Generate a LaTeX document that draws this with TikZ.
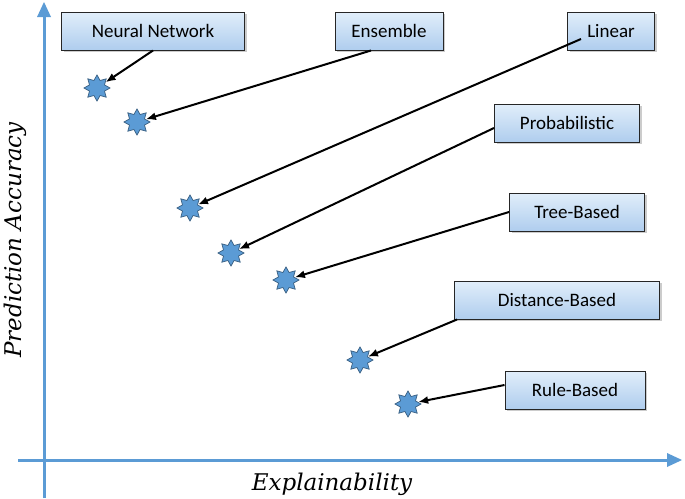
\documentclass[tikz,border=0pt]{standalone}
\usepackage{fontspec}
\setmainfont{Carlito}
\newfontfamily\axfont{DejaVu Serif}
\usetikzlibrary{shapes.geometric,arrows.meta,shadows}
\definecolor{axisblue}{RGB}{91,155,213}
\definecolor{boxtop}{RGB}{225,238,250}
\definecolor{boxbot}{RGB}{175,205,238}
\definecolor{starblue}{RGB}{91,155,213}
\tikzset{
  lbl/.style={draw=black!85, line width=1pt, top color=boxtop, bottom color=boxbot, inner sep=0pt, minimum height=38pt, font=\fontsize{19}{22}\selectfont, drop shadow={shadow xshift=2pt, shadow yshift=-2pt, opacity=0.4}},
  strp/.style={star, star points=8, star point ratio=1.6, minimum size=26pt, inner sep=0pt, fill=starblue, draw=starblue!60!black, line width=0.7pt},
  conn/.style={-{Latex[length=10pt,width=8pt]}, line width=2pt},
  ax/.style={draw=axisblue, line width=3pt}
}
\begin{document}
\begin{tikzpicture}[x=1pt,y=-1pt]
\useasboundingbox (0,0) rectangle (685,498);
\draw[ax] (44,498) -- (44,14);
\fill[axisblue] (44,2) -- (37,17) -- (51,17) -- cycle;
\draw[ax] (18,460) -- (668,460);
\fill[axisblue] (682,460) -- (667,453) -- (667,467) -- cycle;
\node[font=\axfont\itshape\fontsize{23}{26}\selectfont, rotate=90] (ylab) at (15,240) {Prediction Accuracy};
\node[font=\axfont\itshape\fontsize{23}{26}\selectfont] (xlab) at (332,484) {Explainability};

\node[lbl, minimum width=183pt] (nn) at (153,31) {Neural Network};
\node[lbl, minimum width=108pt] (en) at (389,31) {Ensemble};
\node[lbl, minimum width=87pt] (li) at (611,31) {Linear};
\node[lbl, minimum width=145pt] (pr) at (567,123) {Probabilistic};
\node[lbl, minimum width=135pt] (tr) at (577,212) {Tree-Based};
\node[lbl, minimum width=205pt] (di) at (557,300) {Distance-Based};
\node[lbl, minimum width=140pt] (ru) at (575,390) {Rule-Based};

\node[strp] (s1) at (97,88) {};
\node[strp] (s2) at (137,122) {};
\node[strp] (s3) at (190,208) {};
\node[strp] (s4) at (231,253) {};
\node[strp] (s5) at (286,280) {};
\node[strp] (s6) at (360,360) {};
\node[strp] (s7) at (408,404) {};

\draw[conn] (nn.south) -- (s1);
\draw[conn] ([xshift=-18pt]en.south) -- (s2);
\draw[conn] ([xshift=-30pt,yshift=-8pt]li.center) -- (s3);
\draw[conn] ([yshift=-5pt]pr.west) -- (s4);
\draw[conn] (tr.west) -- (s5);
\draw[conn] ([xshift=3pt]di.south west) -- (s6);
\draw[conn] ([yshift=5pt]ru.west) -- (s7);
\end{tikzpicture}
\end{document}
